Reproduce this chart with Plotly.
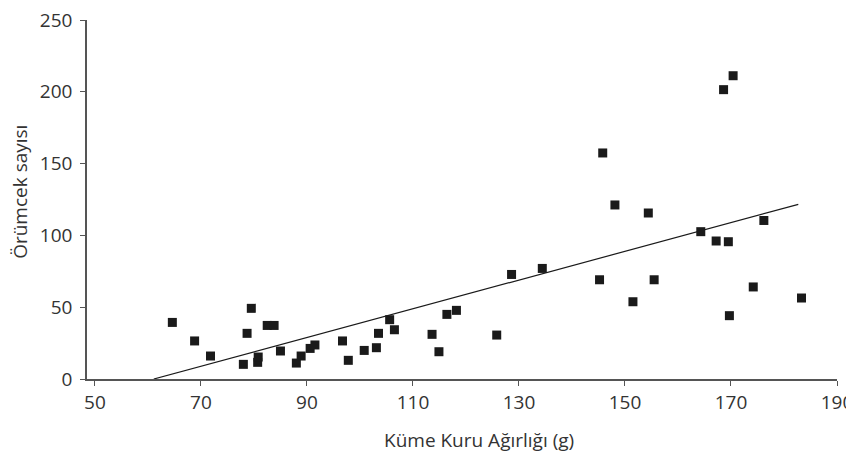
import plotly.graph_objects as go

# Data
dry_weight = [64.6, 68.8, 71.8, 78.0, 78.7, 79.5, 80.7, 80.8, 82.5, 83.8,
              85.0, 88.0, 88.9, 90.6, 91.5, 96.7, 97.8, 100.8, 103.1, 103.5,
              105.6, 106.5, 113.6, 114.9, 116.4, 118.2, 125.8, 128.6, 134.4, 145.2,
              145.8, 148.1, 151.5, 154.4, 155.5, 164.3, 167.2, 168.6, 169.5, 169.7,
              170.4, 174.2, 176.2, 183.3]
spider_count = [39.4, 26.5, 16.0, 10.2, 31.8, 49.2, 11.6, 15.3, 37.3, 37.3,
                19.5, 11.1, 16.0, 21.3, 23.7, 26.5, 13.0, 19.9, 21.8, 31.8,
                41.3, 34.3, 31.1, 19.0, 45.0, 47.8, 30.6, 72.8, 77.0, 69.1,
                157.4, 121.2, 53.8, 115.6, 69.1, 102.6, 96.1, 201.5, 95.6, 44.1,
                211.2, 64.1, 110.4, 56.4]

trend_x = [61.1, 182.7]
trend_y = [0.0, 121.6]

x_ticks = [50, 70, 90, 110, 130, 150, 170, 190]
y_ticks = [0, 50, 100, 150, 200, 250]

x_title = "Küme Kuru Ağırlığı (g)"
y_title = "Örümcek sayısı"

font_family = "Open Sans, Liberation Sans, sans-serif"

fig = go.Figure()
fig.add_trace(go.Scatter(
    x=trend_x, y=trend_y, mode="lines",
    line=dict(color="#1a1a1a", width=1.2),
    showlegend=False, hoverinfo="skip"))
fig.add_trace(go.Scatter(
    x=dry_weight, y=spider_count, mode="markers",
    marker=dict(symbol="square", size=9, color="#1a1a1a", line=dict(width=0)),
    showlegend=False))

fig.update_layout(
    width=846, height=455,
    margin=dict(l=87, r=9, t=20, b=76, autoexpand=False),
    paper_bgcolor="white", plot_bgcolor="white",
    font=dict(family=font_family, color="#333333"),
    xaxis=dict(
        range=[48.5, 190], tickvals=x_ticks, automargin=False,
        showline=True, linecolor="#555555", linewidth=1.5,
        ticks="outside", ticklen=5, tickcolor="#555555", tickwidth=1,
        ticklabeloverflow="allow",
        showgrid=False, zeroline=False,
        tickfont=dict(size=19, color="#333333", family=font_family)),
    yaxis=dict(
        range=[0, 250], tickvals=y_ticks, automargin=False,
        showline=True, linecolor="#555555", linewidth=1.5,
        ticks="outside", ticklen=5, tickcolor="#555555", tickwidth=1,
        ticklabelstandoff=4, ticklabeloverflow="allow",
        showgrid=False, zeroline=False,
        tickfont=dict(size=19, color="#333333", family=font_family)),
    annotations=[
        dict(text=x_title, xref="paper", yref="paper", x=0.522, y=-0.169,
             xanchor="center", yanchor="middle", showarrow=False,
             font=dict(size=19, color="#333333", family=font_family)),
        dict(text=y_title, xref="paper", yref="paper", x=-0.0895, y=0.521,
             xanchor="center", yanchor="middle", showarrow=False, textangle=-90,
             font=dict(size=19, color="#333333", family=font_family)),
    ],
)

fig.write_html(
    "out.html",
    config={"displayModeBar": False},
    post_script="document.body.style.margin='0';document.body.style.overflow='hidden';",
)
